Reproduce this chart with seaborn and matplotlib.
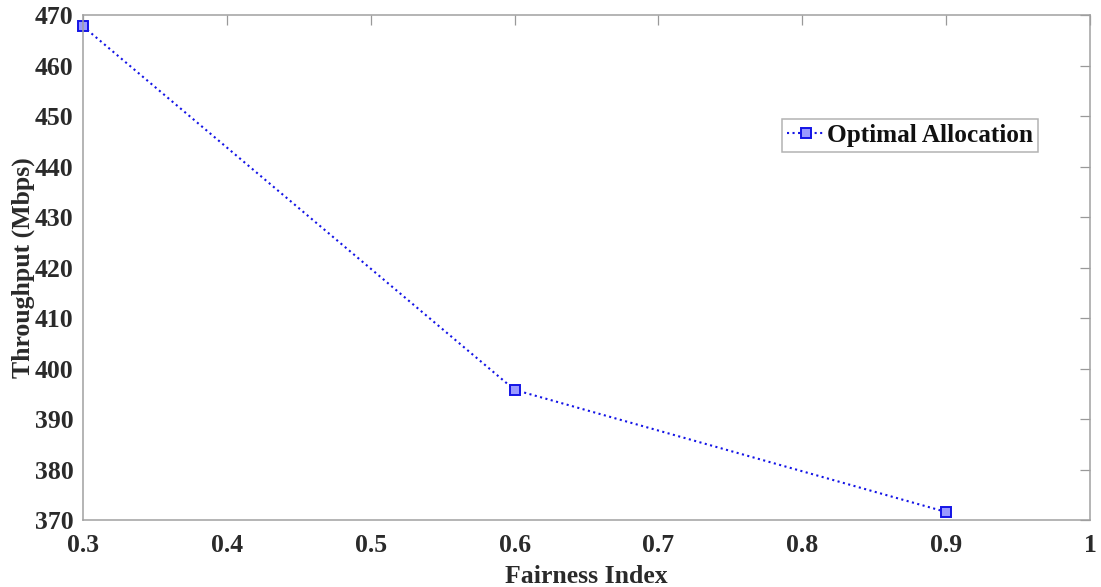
import matplotlib
matplotlib.use("Agg")
import matplotlib.pyplot as plt
import seaborn as sns
import pandas as pd

# Throughput versus fairness index
fairness = [0.3, 0.6, 0.9]
throughput = [467.8, 395.8, 371.6]
series_name = "Optimal Allocation"

x_ticks = [0.3, 0.4, 0.5, 0.6, 0.7, 0.8, 0.9, 1.0]
x_tick_labels = ["0.3", "0.4", "0.5", "0.6", "0.7", "0.8", "0.9", "1"]
y_ticks = [370, 380, 390, 400, 410, 420, 430, 440, 450, 460, 470]

sns.set_theme(style="white")
plt.rcParams["font.family"] = ["Liberation Serif", "DejaVu Serif"]
plt.rcParams["font.weight"] = "bold"

df = pd.DataFrame({"Fairness Index": fairness, "Throughput (Mbps)": throughput,
                   "series": series_name})

fig = plt.figure(figsize=(11.01, 5.87), dpi=100)
ax = fig.add_axes([0.0754, 0.114, 0.9146, 0.86])

sns.lineplot(data=df, x="Fairness Index", y="Throughput (Mbps)", hue="series",
             palette=["#1414e6"], ax=ax, linestyle=":", linewidth=1.5,
             marker="s", markersize=6.5, markeredgecolor="#1414e6",
             markerfacecolor="#9a9aff", markeredgewidth=1.4, clip_on=False)

ax.set_xlim(0.3, 1.0)
ax.set_ylim(370, 470)
ax.set_xticks(x_ticks)
ax.set_xticklabels(x_tick_labels)
ax.set_yticks(y_ticks)
ax.tick_params(axis="both", direction="in", length=7, width=0.9, color="#999999",
               labelsize=18.5, top=True, right=True, labelcolor="#2a2a2a")
ax.tick_params(axis="x", pad=10)
ax.tick_params(axis="y", pad=7)
for lab in ax.get_xticklabels() + ax.get_yticklabels():
    lab.set_fontweight("bold")
for spine in ax.spines.values():
    spine.set_color("#a0a0a0")
    spine.set_linewidth(1.1)

ax.set_xlabel("Fairness Index", fontsize=18.5, fontweight="bold", color="#2a2a2a", labelpad=6)
ax.set_ylabel("Throughput (Mbps)", fontsize=18.5, fontweight="bold", color="#2a2a2a", labelpad=0)

leg = ax.legend(loc="upper left", bbox_to_anchor=(0.694, 0.795), frameon=True,
                fancybox=False, edgecolor="#a0a0a0", fontsize=18.2,
                handlelength=1.5, handletextpad=0.1, borderpad=0.2,
                borderaxespad=0)
leg.get_frame().set_linewidth(1.1)
for t in leg.get_texts():
    t.set_fontweight("bold")
    t.set_color("#111111")

fig.savefig("out.png", dpi=100)
